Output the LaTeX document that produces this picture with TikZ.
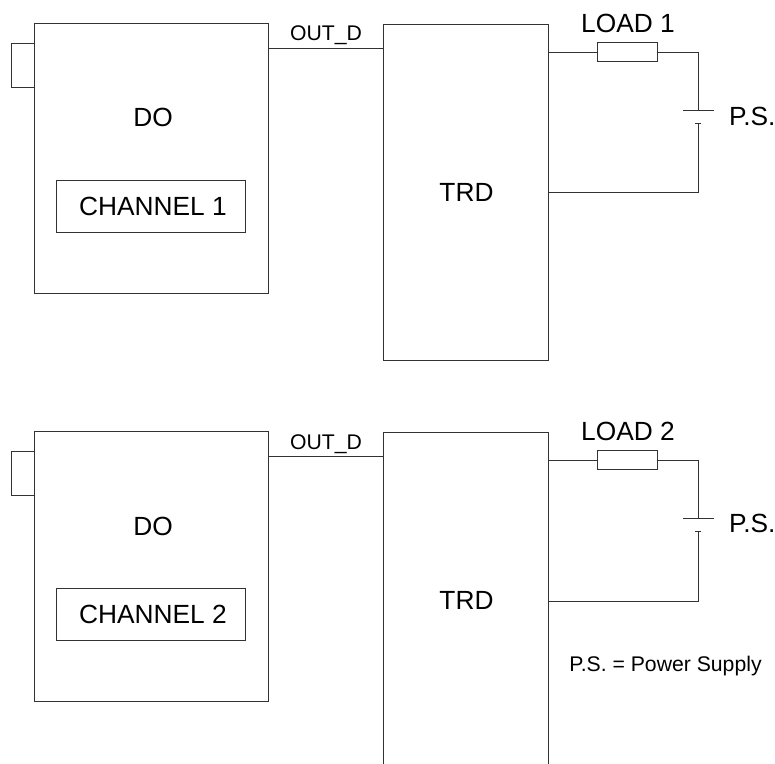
\documentclass[tikz,border=0pt]{standalone}
\usepackage{fontspec}
\setmainfont{Liberation Sans}
\usepackage{xcolor}
\usetikzlibrary{positioning}
\definecolor{cline}{RGB}{50,50,50}

\begin{document}
\begin{tikzpicture}[x=1pt,y=-1pt,font=\fontsize{26.3}{30}\selectfont,
  box/.style={draw=cline,line width=0.9pt,inner sep=0pt,fill=white},
  dobox/.style={box,minimum width=234pt,minimum height=270pt},
  chbox/.style={box,minimum width=189pt,minimum height=52pt},
  tabbox/.style={box,minimum width=23pt,minimum height=44pt},
  trdbox/.style={box,minimum width=165pt,minimum height=336pt},
  loadbox/.style={box,minimum width=60pt,minimum height=19pt},
  wire/.style={draw=cline,line width=0.9pt},
  small/.style={font=\fontsize{21.2}{25}\selectfont,inner sep=0pt},
  plain/.style={inner sep=0pt},
]
\useasboundingbox (0,0) rectangle (775,763);
\clip (0,0) rectangle (775,763);
% first channel
\node[tabbox] (tabA) at (22.5,65.5) {};
\node[dobox] (doA) at (151,158) {};
\node[plain] (doAtxt) at (153,117) {DO};
\node[chbox] (chA) at (151,206) {\hspace{4pt}CHANNEL 1};
\node[trdbox] (trdA) at (465.5,192) {\hspace{2pt}TRD};
\node[loadbox] (loadA) at (627,51.5) {};
\node[plain,above=9pt of loadA.north,xshift=1pt] (loadAtxt) {LOAD 1};
\coordinate (midA) at (326,48);
\node[small,above=3pt of midA] (outA) {OUT\_D};
\coordinate (cornA) at (698,52);
\coordinate (cellA) at (698,110.5);
\coordinate (cellAb) at (698,123.5);
\coordinate (retA) at (698,192);
\node[plain,anchor=west] (psA) at (729,116) {P.S.};
\draw[wire] (doA.east |- midA) -- (trdA.west |- midA);
\draw[wire] (trdA.east |- cornA) -- (loadA.west |- cornA);
\draw[wire] (loadA.east |- cornA) -- (cornA) -- (cellA);
\draw[wire] ([xshift=-15pt]cellA) -- ([xshift=16pt]cellA);
\draw[wire] ([xshift=-3pt]cellAb) -- ([xshift=3pt]cellAb);
\draw[wire] (cellAb) -- (retA) -- (trdA.east |- retA);
% second channel
\node[tabbox] (tabB) at (22.5,473) {};
\node[dobox] (doB) at (151,566) {};
\node[plain] (doBtxt) at (153,526) {DO};
\node[chbox] (chB) at (151,614) {\hspace{4pt}CHANNEL 2};
\node[trdbox] (trdB) at (465.5,600) {\hspace{2pt}TRD};
\node[loadbox] (loadB) at (627,459.5) {};
\node[plain,above=9pt of loadB.north,xshift=1pt] (loadBtxt) {LOAD 2};
\coordinate (midB) at (326,456.5);
\node[small,above=3pt of midB] (outB) {OUT\_D};
\coordinate (cornB) at (698,460.5);
\coordinate (cellB) at (698,518);
\coordinate (cellBb) at (698,531);
\coordinate (retB) at (698,601);
\node[plain,anchor=west] (psB) at (729,523) {P.S.};
\draw[wire] (doB.east |- midB) -- (trdB.west |- midB);
\draw[wire] (trdB.east |- cornB) -- (loadB.west |- cornB);
\draw[wire] (loadB.east |- cornB) -- (cornB) -- (cellB);
\draw[wire] ([xshift=-15pt]cellB) -- ([xshift=16pt]cellB);
\draw[wire] ([xshift=-3pt]cellBb) -- ([xshift=3pt]cellBb);
\draw[wire] (cellBb) -- (retB) -- (trdB.east |- retB);
\node[small] (note) at (665.5,666) {P.S. = Power Supply};
\end{tikzpicture}
\end{document}
